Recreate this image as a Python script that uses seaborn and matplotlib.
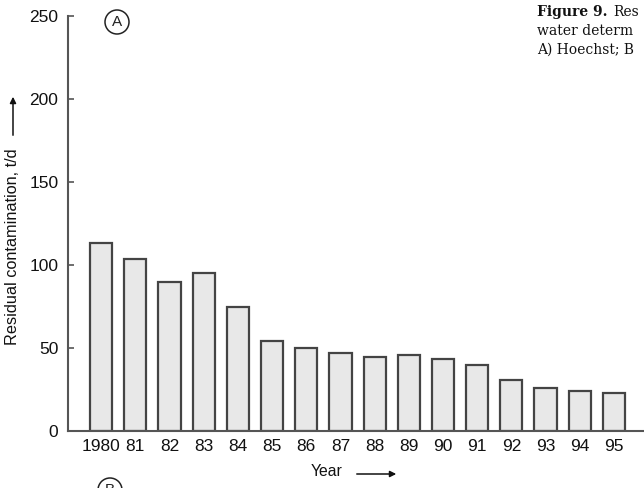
import matplotlib
matplotlib.use("Agg")
import matplotlib.pyplot as plt
from matplotlib.patches import Circle, FancyArrowPatch
import seaborn as sns
import pandas as pd

years = ["1980", "81", "82", "83", "84", "85", "86", "87",
         "88", "89", "90", "91", "92", "93", "94", "95"]
contamination = [113, 103.5, 90, 95, 75, 54, 50, 46.7,
                 44.6, 46, 43.2, 39.8, 30.7, 26, 24.2, 22.8]
yticks = [0, 50, 100, 150, 200, 250]
caption_lines = ["water determ", "A) Hoechst; B"]

df = pd.DataFrame({"year": years, "value": contamination})

sns.set_theme(style="white")
plt.rcParams["font.family"] = ["Liberation Sans", "DejaVu Sans"]
serif = ["DejaVu Serif"]

fig = plt.figure(figsize=(6.44, 4.88), dpi=100)
ax = fig.add_axes([68 / 644, 57 / 488, 1 - 68 / 644, (431 - 16) / 488])

sns.barplot(data=df, x="year", y="value", order=years, ax=ax,
            color="#e8e8e8", edgecolor="#444444", linewidth=1.6,
            width=0.65, saturation=1)

ax.set_xlim(-0.97, 15.88)
ax.set_ylim(0, 250)
ax.set_yticks(yticks)
ax.set_yticklabels([str(t) for t in yticks])

for side in ["top", "right"]:
    ax.spines[side].set_visible(False)
for side in ["left", "bottom"]:
    ax.spines[side].set_color("#555555")
    ax.spines[side].set_linewidth(1.5)

ax.tick_params(axis="y", direction="in", length=4, width=1.2, color="#555555",
               pad=7, labelsize=12.5, labelcolor="#111111", left=True)
ax.tick_params(axis="x", length=0, pad=6, labelsize=12.5, labelcolor="#111111")

ax.set_xlabel("")
ax.set_ylabel("")

# axis titles with arrows
fig.text(13 / 644, 1 - 247 / 488, "Residual contamination, t/d", rotation=90,
         ha="center", va="center", fontsize=11.7, color="#111111")
fig.add_artist(FancyArrowPatch(
    (13 / 644, 1 - 138 / 488), (13 / 644, 1 - 94 / 488),
    transform=fig.transFigure, arrowstyle="-|>", mutation_scale=9,
    color="#111111", linewidth=1.1))
fig.text(327 / 644, 1 - 472 / 488, "Year", ha="center", va="center",
         fontsize=11.3, color="#111111")
fig.add_artist(FancyArrowPatch(
    (354 / 644, 1 - 474 / 488), (399 / 644, 1 - 474 / 488),
    transform=fig.transFigure, arrowstyle="-|>", mutation_scale=9,
    color="#111111", linewidth=1.1))

# panel markers
for (cx, cy, letter) in [(117, 22, "A"), (110, 490, "B")]:
    fig.add_artist(Circle((cx, 488 - cy), 12, transform=None,
                          fill=False, edgecolor="#222222", linewidth=1.1))
    fig.text(cx / 644, 1 - cy / 488, letter, ha="center", va="center",
             fontsize=11, color="#222222")

# caption block
fig.text(537 / 644, 1 - 16 / 488, "Figure 9.", fontsize=10, fontweight="bold",
         family=serif, color="#111111", ha="left", va="baseline")
fig.text(613 / 644, 1 - 16 / 488, "Res", fontsize=10,
         family=serif, color="#111111", ha="left", va="baseline")
for i, line in enumerate(caption_lines):
    fig.text(537 / 644, 1 - (35 + 19 * i) / 488, line, fontsize=10,
             family=serif, color="#111111", ha="left", va="baseline")

fig.savefig("out.png", dpi=100)
